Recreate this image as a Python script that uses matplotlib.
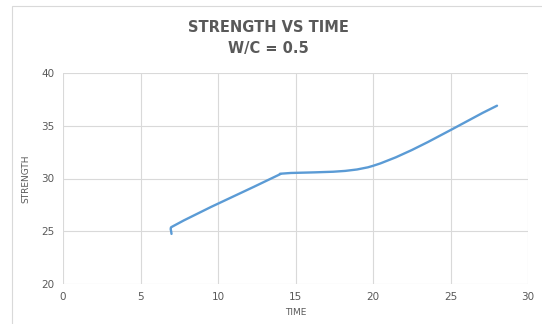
import numpy as np
import matplotlib.pyplot as plt
from matplotlib.path import Path
from matplotlib.patches import PathPatch, Rectangle

# test results: curing time (days) and strength
time = [7.0, 7.0, 14.0, 14.0, 20.0, 28.0]
strength = [24.75, 25.4, 30.4, 30.45, 31.2, 36.9]

x_ticks = [0, 5, 10, 15, 20, 25, 30]
y_ticks = [20, 25, 30, 35, 40]

LINE = '#5B9BD5'
GRID = '#D9D9D9'
TEXT = '#595959'


def smooth_path(xs, ys, k=0.3):
    # bezier smoothing with control arms scaled by the segment lengths
    pts = np.column_stack([xs, ys])
    n = len(pts)
    tang = []
    for i in range(n):
        a = pts[max(i - 1, 0)]
        b = pts[min(i + 1, n - 1)]
        d = b - a
        tang.append(d / (np.hypot(*d) or 1.0))
    verts = [pts[0]]
    codes = [Path.MOVETO]
    for i in range(n - 1):
        seg = np.hypot(*(pts[i + 1] - pts[i]))
        c1 = pts[i] + tang[i] * seg * k
        c2 = pts[i + 1] - tang[i + 1] * seg * k
        verts += [c1, c2, pts[i + 1]]
        codes += [Path.CURVE4] * 3
    return Path(verts, codes)


fig = plt.figure(figsize=(5.42, 3.24), dpi=100)
fig.patch.set_facecolor('white')
fig.patches.append(Rectangle((12 / 542, -0.1), 1.2, 1.1 - 6 / 324,
                             transform=fig.transFigure, fill=False,
                             edgecolor=GRID, lw=0.8))

ax = fig.add_axes([63 / 542, 1 - 284 / 324, 465 / 542, 211 / 324])
ax.set_xlim(0, 30)
ax.set_ylim(20, 40)
ax.set_xticks(x_ticks)
ax.set_yticks(y_ticks)
ax.grid(True, color=GRID, lw=0.8)
ax.set_axisbelow(True)
for s in ax.spines.values():
    s.set_visible(False)
ax.tick_params(length=0, labelsize=7.5, labelcolor=TEXT, pad=6)

# smooth in pixel-like units so the curve shape is not distorted
sx, sy = 15.5, 10.55
p = smooth_path(np.array(time) * sx, np.array(strength) * sy)
p = Path(p.vertices / [sx, sy], p.codes)
ax.add_patch(PathPatch(p, fill=False, edgecolor=LINE, lw=1.7,
                       capstyle='round', joinstyle='round'))

ax.set_xlabel('TIME', fontsize=6.5, color=TEXT, labelpad=4)
ax.set_ylabel('STRENGTH', fontsize=6.5, color=TEXT, labelpad=8)

fig.text(0.496, 1 - 27 / 324, 'STRENGTH VS TIME', ha='center', va='center',
         fontsize=10.5, fontweight='bold', color=TEXT, family='DejaVu Sans')
fig.text(0.496, 1 - 48 / 324, 'W/C = 0.5', ha='center', va='center',
         fontsize=10.5, fontweight='bold', color=TEXT, family='DejaVu Sans')

fig.savefig('out.png', dpi=100)
